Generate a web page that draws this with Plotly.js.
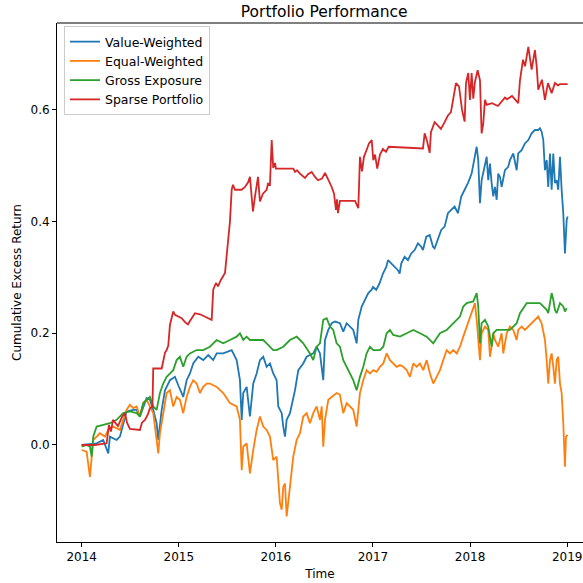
<!DOCTYPE html>
<html>
<head>
<meta charset="utf-8">
<script src="https://cdn.plot.ly/plotly-3.0.1.min.js"></script>
<style>
html,body{margin:0;padding:0;background:#fff;overflow:hidden;}
#chart{width:583px;height:583px;}
</style>
</head>
<body>
<div id="chart"></div>
<script>
// Time as decimal years, values = cumulative excess return
const seriesNames = ["Value-Weighted", "Equal-Weighted", "Gross Exposure", "Sparse Portfolio"];
const seriesColors = ["#1f77b4", "#ff7f0e", "#2ca02c", "#d62728"];
const xTickVals = [2014, 2015, 2016, 2017, 2018, 2019];
const xTickText = ["2014", "2015", "2016", "2017", "2018", "2019"];
const yTickVals = [0.0, 0.2, 0.4, 0.6];
const yTickText = ["0.0", "0.2", "0.4", "0.6"];

const tVW = [2014.000,2014.154,2014.222,2014.274,2014.291,2014.360,2014.394,2014.463,2014.531,2014.566,2014.600,2014.669,2014.703,2014.737,2014.772,2014.789,2014.824,2014.858,2014.909,2014.961,2014.995,2015.030,2015.046,2015.081,2015.115,2015.149,2015.201,2015.252,2015.304,2015.355,2015.390,2015.458,2015.493,2015.545,2015.596,2015.630,2015.648,2015.664,2015.699,2015.733,2015.767,2015.802,2015.836,2015.870,2015.905,2015.939,2015.973,2016.008,2016.025,2016.060,2016.076,2016.094,2016.111,2016.145,2016.197,2016.231,2016.282,2016.317,2016.385,2016.420,2016.454,2016.488,2016.506,2016.540,2016.575,2016.609,2016.660,2016.694,2016.729,2016.763,2016.797,2016.832,2016.849,2016.884,2016.918,2016.952,2016.987,2017.000,2017.034,2017.069,2017.103,2017.137,2017.155,2017.188,2017.223,2017.257,2017.275,2017.291,2017.326,2017.360,2017.394,2017.429,2017.463,2017.497,2017.515,2017.549,2017.584,2017.618,2017.635,2017.669,2017.703,2017.738,2017.772,2017.806,2017.841,2017.875,2017.909,2017.944,2017.978,2018.016,2018.050,2018.068,2018.084,2018.102,2018.119,2018.153,2018.171,2018.187,2018.205,2018.222,2018.239,2018.256,2018.274,2018.290,2018.308,2018.325,2018.359,2018.393,2018.411,2018.445,2018.462,2018.480,2018.496,2018.531,2018.565,2018.600,2018.634,2018.668,2018.702,2018.720,2018.737,2018.754,2018.771,2018.789,2018.805,2018.823,2018.840,2018.857,2018.874,2018.892,2018.908,2018.926,2018.943,2018.960,2018.977,2018.995,2019.005];
const vVW = [0.000,0.003,0.009,-0.015,0.015,0.009,0.015,0.060,0.063,0.063,0.051,0.084,0.081,0.063,0.039,0.009,0.063,0.098,0.116,0.122,0.107,0.093,0.086,0.116,0.128,0.146,0.158,0.152,0.161,0.152,0.164,0.164,0.167,0.170,0.152,0.116,0.045,0.093,0.104,0.051,0.110,0.128,0.152,0.158,0.140,0.146,0.128,0.116,0.069,0.057,0.033,0.015,0.045,0.057,0.098,0.134,0.146,0.158,0.164,0.176,0.164,0.116,0.188,0.206,0.218,0.221,0.218,0.203,0.218,0.212,0.206,0.182,0.224,0.248,0.260,0.272,0.278,0.283,0.278,0.290,0.307,0.319,0.331,0.325,0.319,0.313,0.307,0.325,0.337,0.331,0.343,0.349,0.361,0.355,0.349,0.373,0.376,0.355,0.352,0.367,0.385,0.391,0.415,0.421,0.427,0.415,0.445,0.457,0.469,0.486,0.516,0.534,0.510,0.433,0.474,0.498,0.516,0.474,0.504,0.469,0.445,0.462,0.439,0.486,0.480,0.462,0.492,0.498,0.510,0.522,0.504,0.492,0.522,0.528,0.540,0.546,0.558,0.564,0.564,0.567,0.561,0.546,0.492,0.510,0.462,0.522,0.457,0.522,0.469,0.474,0.457,0.516,0.457,0.415,0.343,0.403,0.409];

const tEW = [2014.000,2014.051,2014.085,2014.103,2014.119,2014.154,2014.188,2014.240,2014.274,2014.325,2014.394,2014.428,2014.463,2014.497,2014.531,2014.566,2014.600,2014.634,2014.669,2014.703,2014.737,2014.772,2014.789,2014.806,2014.840,2014.875,2014.909,2014.943,2014.978,2015.012,2015.046,2015.081,2015.115,2015.149,2015.184,2015.218,2015.252,2015.287,2015.321,2015.390,2015.458,2015.527,2015.596,2015.630,2015.648,2015.664,2015.699,2015.733,2015.767,2015.802,2015.836,2015.870,2015.905,2015.939,2015.973,2016.008,2016.025,2016.042,2016.060,2016.076,2016.094,2016.111,2016.145,2016.179,2016.214,2016.248,2016.282,2016.317,2016.351,2016.385,2016.420,2016.454,2016.472,2016.488,2016.506,2016.540,2016.575,2016.626,2016.660,2016.694,2016.729,2016.763,2016.797,2016.832,2016.866,2016.900,2016.935,2016.969,2017.003,2017.038,2017.072,2017.106,2017.141,2017.175,2017.209,2017.244,2017.278,2017.312,2017.347,2017.381,2017.415,2017.450,2017.484,2017.518,2017.553,2017.587,2017.621,2017.656,2017.690,2017.724,2017.759,2017.793,2017.827,2017.862,2017.896,2017.930,2017.965,2017.999,2018.033,2018.050,2018.068,2018.102,2018.119,2018.153,2018.187,2018.205,2018.222,2018.239,2018.256,2018.290,2018.325,2018.342,2018.377,2018.411,2018.445,2018.480,2018.496,2018.531,2018.565,2018.600,2018.634,2018.668,2018.702,2018.737,2018.771,2018.789,2018.805,2018.823,2018.840,2018.857,2018.874,2018.892,2018.908,2018.926,2018.943,2018.960,2018.977,2018.988,2019.005];
const vEW = [-0.009,-0.012,-0.057,-0.027,0.009,0.015,0.021,0.015,0.027,0.033,0.027,0.045,0.063,0.072,0.066,0.069,0.051,0.075,0.081,0.069,0.057,0.009,-0.015,0.021,0.057,0.093,0.098,0.069,0.086,0.081,0.057,0.086,0.104,0.116,0.110,0.093,0.104,0.110,0.110,0.104,0.093,0.075,0.069,0.045,-0.045,-0.003,0.003,-0.051,-0.009,0.027,0.051,0.033,0.027,0.015,-0.027,-0.021,-0.063,-0.104,-0.116,-0.075,-0.069,-0.128,-0.075,-0.021,0.009,0.021,0.051,0.057,0.039,0.057,0.069,0.045,0.069,-0.003,0.045,0.081,0.086,0.093,0.090,0.057,0.075,0.069,0.063,0.033,0.093,0.116,0.134,0.128,0.134,0.131,0.140,0.146,0.164,0.152,0.146,0.140,0.143,0.140,0.134,0.122,0.146,0.140,0.146,0.134,0.152,0.128,0.110,0.122,0.134,0.152,0.170,0.164,0.170,0.164,0.176,0.194,0.212,0.230,0.248,0.254,0.224,0.152,0.200,0.212,0.206,0.158,0.176,0.200,0.188,0.176,0.200,0.164,0.200,0.212,0.206,0.188,0.206,0.212,0.206,0.212,0.218,0.224,0.230,0.218,0.188,0.152,0.110,0.152,0.164,0.140,0.110,0.152,0.158,0.110,0.093,0.039,-0.039,0.015,0.018];

const tGE = [2014.000,2014.051,2014.085,2014.103,2014.119,2014.154,2014.222,2014.291,2014.360,2014.394,2014.428,2014.497,2014.566,2014.600,2014.634,2014.703,2014.737,2014.772,2014.806,2014.840,2014.875,2014.909,2014.943,2014.978,2015.012,2015.046,2015.081,2015.115,2015.184,2015.252,2015.321,2015.390,2015.458,2015.527,2015.596,2015.630,2015.664,2015.699,2015.733,2015.802,2015.870,2015.905,2015.939,2015.973,2016.008,2016.076,2016.145,2016.214,2016.248,2016.282,2016.351,2016.385,2016.420,2016.454,2016.488,2016.523,2016.557,2016.591,2016.626,2016.660,2016.694,2016.729,2016.763,2016.797,2016.832,2016.866,2016.900,2016.935,2016.969,2017.003,2017.072,2017.106,2017.141,2017.175,2017.209,2017.278,2017.347,2017.415,2017.484,2017.553,2017.621,2017.690,2017.759,2017.827,2017.896,2017.930,2017.965,2018.033,2018.068,2018.084,2018.102,2018.119,2018.153,2018.187,2018.222,2018.239,2018.274,2018.342,2018.411,2018.480,2018.514,2018.583,2018.651,2018.720,2018.789,2018.805,2018.840,2018.857,2018.874,2018.892,2018.926,2018.960,2018.977,2018.995];
const vGE = [-0.003,0.000,-0.003,-0.021,0.015,0.033,0.036,0.039,0.045,0.051,0.057,0.060,0.057,0.051,0.075,0.086,0.069,0.063,0.093,0.110,0.122,0.128,0.134,0.152,0.158,0.140,0.158,0.164,0.170,0.170,0.176,0.188,0.182,0.188,0.194,0.200,0.188,0.194,0.188,0.188,0.188,0.182,0.176,0.170,0.170,0.176,0.188,0.194,0.188,0.182,0.164,0.152,0.176,0.182,0.224,0.227,0.212,0.206,0.182,0.176,0.152,0.140,0.128,0.116,0.098,0.122,0.140,0.164,0.176,0.170,0.170,0.176,0.200,0.206,0.197,0.194,0.200,0.206,0.200,0.194,0.182,0.200,0.206,0.218,0.230,0.248,0.254,0.257,0.272,0.248,0.182,0.218,0.224,0.212,0.176,0.200,0.206,0.206,0.206,0.218,0.236,0.254,0.254,0.254,0.242,0.236,0.272,0.260,0.242,0.236,0.254,0.248,0.239,0.245];

const tSP = [2014.000,2014.137,2014.257,2014.281,2014.302,2014.322,2014.374,2014.415,2014.446,2014.467,2014.497,2014.600,2014.621,2014.652,2014.683,2014.703,2014.729,2014.737,2014.824,2014.840,2014.858,2014.875,2014.892,2014.909,2014.927,2014.943,2014.961,2015.030,2015.064,2015.095,2015.115,2015.167,2015.218,2015.270,2015.339,2015.355,2015.383,2015.404,2015.435,2015.476,2015.507,2015.527,2015.545,2015.558,2015.579,2015.648,2015.682,2015.713,2015.733,2015.754,2015.764,2015.785,2015.816,2015.836,2015.867,2015.905,2015.919,2015.939,2015.957,2015.973,2015.991,2016.001,2016.179,2016.197,2016.217,2016.248,2016.300,2016.331,2016.369,2016.403,2016.434,2016.475,2016.506,2016.537,2016.575,2016.599,2016.619,2016.630,2016.640,2016.660,2016.815,2016.849,2016.866,2016.887,2016.907,2016.938,2016.959,2016.987,2017.003,2017.021,2017.044,2017.072,2017.103,2017.134,2017.162,2017.515,2017.532,2017.556,2017.584,2017.597,2017.635,2017.669,2017.700,2017.738,2017.772,2017.803,2017.841,2017.855,2017.886,2017.917,2017.944,2017.958,2017.981,2017.999,2018.016,2018.033,2018.050,2018.078,2018.102,2018.119,2018.136,2018.153,2018.171,2018.225,2018.287,2018.329,2018.359,2018.380,2018.432,2018.496,2018.514,2018.545,2018.566,2018.600,2018.617,2018.634,2018.668,2018.686,2018.702,2018.740,2018.771,2018.802,2018.840,2018.874,2018.905,2018.926,2019.005];
const vSP = [0.000,0.000,0.003,0.036,0.024,0.045,0.034,0.050,0.057,0.040,0.029,0.027,0.040,0.045,0.055,0.066,0.068,0.137,0.137,0.150,0.165,0.170,0.178,0.215,0.227,0.239,0.233,0.227,0.220,0.216,0.222,0.236,0.234,0.230,0.224,0.278,0.290,0.284,0.296,0.308,0.373,0.400,0.457,0.466,0.457,0.457,0.462,0.470,0.480,0.440,0.418,0.445,0.480,0.436,0.450,0.457,0.468,0.466,0.546,0.496,0.505,0.495,0.495,0.489,0.492,0.486,0.478,0.485,0.489,0.480,0.474,0.477,0.487,0.476,0.462,0.450,0.421,0.440,0.415,0.437,0.437,0.424,0.516,0.490,0.516,0.530,0.540,0.546,0.510,0.520,0.495,0.520,0.530,0.525,0.534,0.531,0.558,0.545,0.523,0.560,0.578,0.572,0.566,0.578,0.590,0.596,0.630,0.648,0.642,0.600,0.579,0.648,0.666,0.618,0.666,0.620,0.650,0.671,0.653,0.558,0.576,0.618,0.609,0.612,0.607,0.616,0.622,0.619,0.625,0.612,0.653,0.690,0.678,0.713,0.690,0.672,0.707,0.678,0.636,0.654,0.618,0.648,0.630,0.648,0.644,0.646,0.646];

const xs = [tVW, tEW, tGE, tSP];
const ys = [vVW, vEW, vGE, vSP];

const font = "DejaVu Sans, Liberation Sans, sans-serif";
const traces = seriesNames.map((name, i) => ({
  type: "scatter", mode: "lines", name: name,
  x: xs[i], y: ys[i],
  line: {color: seriesColors[i], width: 1.8}
}));

const layout = {
  width: 583, height: 583,
  margin: {l: 57, r: 0, t: 23, b: 41},
  paper_bgcolor: "#fff", plot_bgcolor: "#fff",
  font: {family: font, size: 12, color: "#000"},
  title: {text: "Portfolio Performance", font: {family: font, size: 15.5, color: "#000"},
          xref: "paper", x: 0.508, xanchor: "center", yref: "container", y: 0.981, yanchor: "middle"},
  xaxis: {
    range: [2013.746, 2019.163], tickvals: xTickVals, ticktext: xTickText,
    showgrid: false, zeroline: false, showline: true, linecolor: "#000", linewidth: 1,
    ticks: "outside", ticklen: 4, tickwidth: 1, tickcolor: "#000",
    tickfont: {family: font, size: 12, color: "#000"},
    title: {text: "Time", font: {family: font, size: 12, color: "#000"}, standoff: 6}
  },
  yaxis: {
    range: [-0.1737, 0.7556], tickvals: yTickVals, ticktext: yTickText,
    showgrid: false, zeroline: false, showline: true, linecolor: "#000", linewidth: 1,
    ticks: "outside", ticklen: 4, tickwidth: 1, tickcolor: "#000",
    tickfont: {family: font, size: 12, color: "#000"},
    title: {text: "Cumulative Excess Return", font: {family: font, size: 12, color: "#000"}, standoff: 6}
  },
  shapes: [{type: "line", xref: "paper", yref: "paper", x0: 0, x1: 1, y0: 1, y1: 1,
            line: {color: "#000", width: 1}}],
  legend: {x: 0.0133, y: 0.9942, xanchor: "left", yanchor: "top",
           bgcolor: "rgba(255,255,255,0.8)", bordercolor: "#cccccc", borderwidth: 1,
           font: {family: font, size: 12.5, color: "#000"}, tracegroupgap: 0},
  showlegend: true
};

Plotly.newPlot("chart", traces, layout, {staticPlot: true, displayModeBar: false});
</script>
</body>
</html>
